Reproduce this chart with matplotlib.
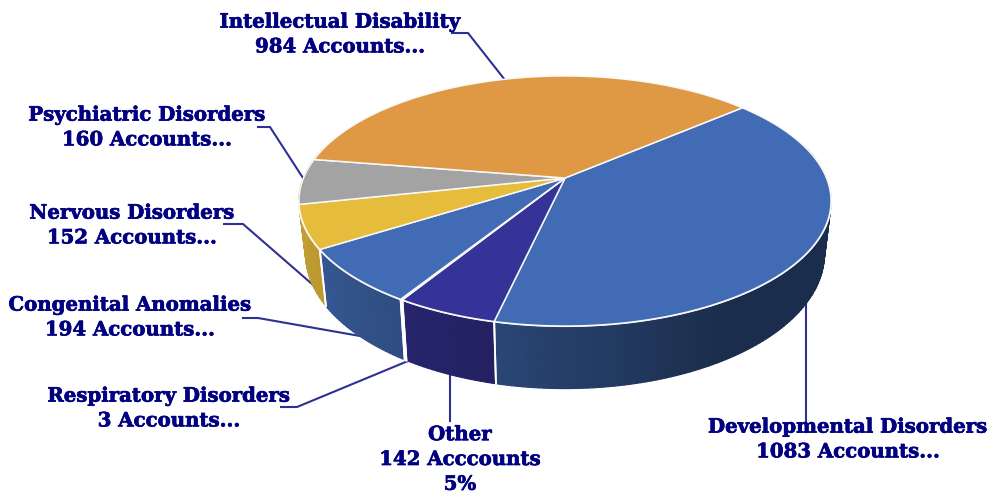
import numpy as np
import matplotlib
matplotlib.use("Agg")
import matplotlib.pyplot as plt
import matplotlib.patheffects as pe
from matplotlib.collections import PolyCollection

# Slices, clockwise from the back right
names = ["Developmental Disorders", "Other", "Respiratory Disorders", "Congenital Anomalies",
         "Nervous Disorders", "Psychiatric Disorders", "Intellectual Disability"]
accounts = [1083, 142, 3, 194, 152, 160, 984]
slice_colors = ["#416cb5", "#353397", "#ffffff", "#416bb4", "#e6bc3c", "#a3a3a3", "#df9945"]

label_text = ["Developmental Disorders\n1083 Accounts...", "Other\n142 Acccounts\n5%",
              "Respiratory Disorders\n3 Accounts...", "Congenital Anomalies\n194 Accounts...",
              "Nervous Disorders\n152 Accounts...", "Psychiatric Disorders\n160 Accounts...",
              "Intellectual Disability\n984 Accounts..."]

# Layout, in pixels
label_xy = [(848, 439), (460, 459), (169, 408), (130, 317), (132, 225), (147, 127), (340, 34)]
leaders = [[(806, 304), (806, 432)],
           [(450, 375), (450, 421)],
           [(408, 361), (297, 407), (281, 407)],
           [(360, 336), (258, 318), (243, 318)],
           [(312, 284), (243, 224), (224, 224)],
           [(303, 178), (270, 127), (258, 127)],
           [(505, 80), (468, 33), (452, 33)]]

# Pie geometry
cx, cy = 565, 178
rx, ry = 261.5, 120.8
persp = 0.184
depth = 51
shrink = 0.025
start_deg = 40.6
side_angles = [-200, -150, -103, -60, 20]
side_shade = [0.88, 0.82, 0.65, 0.42, 0.42]


def project(theta, z=0.0):
    u = np.cos(theta)
    v = np.sin(theta)
    w = 1 + persp * v
    x = cx + rx * u / w * (1 - shrink * z)
    y = cy - ry * v / w + depth * z / w
    return x, y


fig = plt.figure(figsize=(9.92, 4.93), dpi=100)
ax = fig.add_axes([0, 0, 1, 1])
ax.set_xlim(0, 992)
ax.set_ylim(493, 0)
ax.axis("off")

sweep = np.array(accounts) / sum(accounts) * 360
ends = start_deg - np.cumsum(sweep)
starts = ends + sweep

# Leader lines sit behind the pie
for pts in leaders:
    xs, ys = zip(*pts)
    ax.plot(xs, ys, color="#2e3192", lw=1.5, solid_joinstyle="miter", zorder=1)

# Side wall: thin strips so the shading runs along the rim
for name, s, e, col in zip(names, starts, ends, slice_colors):
    t = np.arange(e, s + 1, 1.0)
    t[-1] = s
    t = t[(t >= -195) & (t <= 15)]
    if len(t) < 2:
        continue
    # the grey wedge shows no wall of its own, yellow runs on to the silhouette
    if name == "Psychiatric Disorders":
        col = slice_colors[names.index("Nervous Disorders")]
    base = np.array(matplotlib.colors.to_rgb(col))
    polys, facecols = [], []
    for a, b in zip(t[:-1], t[1:]):
        ta, tb = np.radians(a), np.radians(b)
        polys.append([project(ta), project(tb), project(tb, 1), project(ta, 1)])
        facecols.append(base * np.interp((a + b) / 2, side_angles, side_shade))
    ax.add_collection(PolyCollection(polys, facecolors=facecols, edgecolors=facecols,
                                     linewidths=0.9, zorder=2))
    # white seams between the walls
    for edge in (t[0], t[-1]):
        if -150 < edge < 0:
            te = np.radians(edge)
            x0, y0 = project(te)
            x1, y1 = project(te, 1)
            ax.plot([x0, x1], [y0, y1], color="white", lw=1.3, zorder=3)

# Rim highlight between top and wall
tt = np.radians(np.linspace(-170, 10, 300))
ax.plot(*project(tt), color="white", lw=1.5, zorder=3)

# Top of the pie
for s, e, col in zip(starts, ends, slice_colors):
    t = np.radians(np.linspace(e, s, max(int(s - e) * 2, 2)))
    x, y = project(t)
    ax.fill(np.r_[cx, x], np.r_[cy, y], facecolor=col, edgecolor="#f8f8f8", lw=1.1,
            joinstyle="round", zorder=4)

for (x, y), txt in zip(label_xy, label_text):
    ax.text(x, y, txt, ha="center", va="center", color="#000080", fontsize=14.2,
            family="DejaVu Serif", fontweight="bold", linespacing=1.3, zorder=6,
            path_effects=[pe.withStroke(linewidth=0.5, foreground="#000080")])

fig.savefig("out.png", dpi=100)
